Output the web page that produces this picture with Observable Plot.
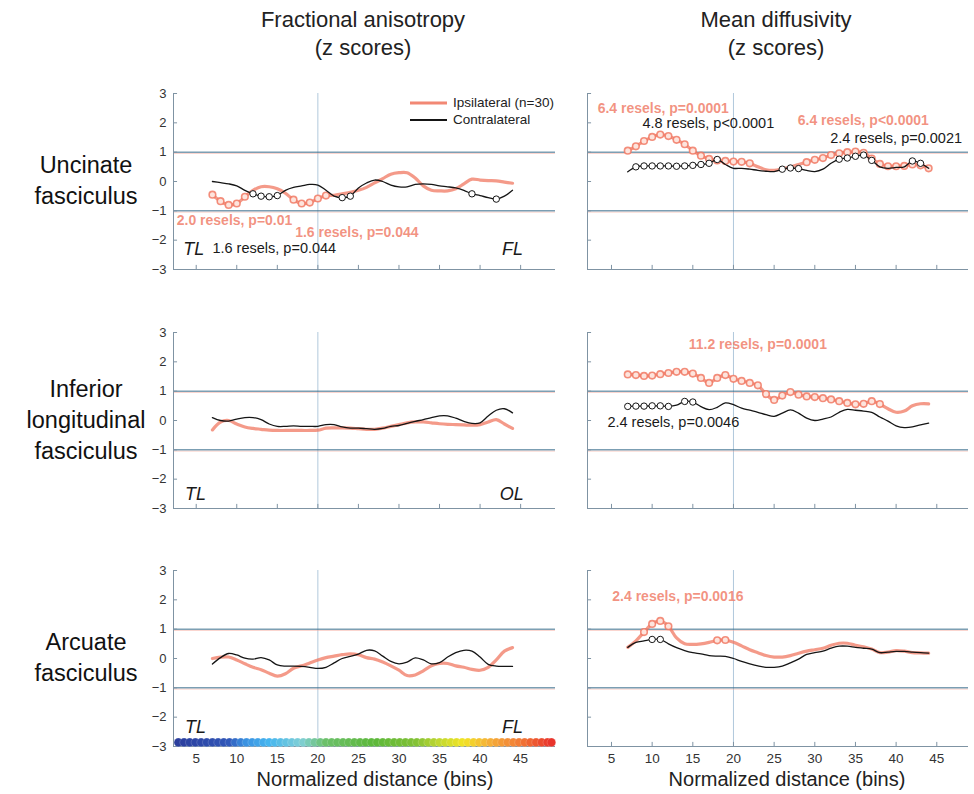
<!DOCTYPE html>
<html><head><meta charset="utf-8">
<script src="https://cdn.jsdelivr.net/npm/d3@7"></script>
<script src="https://cdn.jsdelivr.net/npm/@observablehq/plot@0.6"></script>
<style>
body{margin:0;background:#fff;font-family:"Liberation Sans",Arial,sans-serif;}
#root{position:relative;width:974px;height:794px;overflow:hidden;background:#fff;}
.ttl{position:absolute;font-size:22px;color:#222;text-align:center;width:300px;line-height:28px;}
.row{position:absolute;font-size:23.5px;color:#111;text-align:center;width:172px;left:0;line-height:31px;}
.xlab{position:absolute;font-size:20px;color:#222;text-align:center;width:320px;}
.leg{position:absolute;font-size:13.5px;color:#222;}
</style></head><body><div id="root"></div>
<script>
// ---- data ----
const bins = [7,8,9,10,11,12,13,14,15,16,17,18,19,20,21,22,23,24,25,26,27,28,29,30,31,32,33,34,35,36,37,38,39,40,41,42,43,44];
const yTicks = [-3,-2,-1,0,1,2,3];
const xTicks = [5,10,15,20,25,30,35,40,45];

const faUncIpsi   = [-0.45,-0.67,-0.8,-0.75,-0.52,-0.3,-0.18,-0.18,-0.25,-0.4,-0.62,-0.75,-0.72,-0.58,-0.48,-0.47,-0.42,-0.37,-0.3,-0.2,-0.05,0.1,0.25,0.3,0.3,0.12,-0.15,-0.3,-0.32,-0.32,-0.25,-0.08,0.08,0.05,0.03,0.02,-0.02,-0.06];
const faUncContra = [0.0,-0.04,-0.08,-0.15,-0.3,-0.42,-0.5,-0.52,-0.48,-0.3,-0.2,-0.15,-0.1,-0.12,-0.3,-0.5,-0.55,-0.5,-0.22,-0.05,0.05,0.0,-0.12,-0.18,-0.18,-0.1,-0.08,-0.1,-0.15,-0.18,-0.22,-0.3,-0.42,-0.48,-0.55,-0.6,-0.5,-0.3];
const mdUncIpsi   = [1.05,1.2,1.38,1.52,1.6,1.55,1.42,1.27,1.05,0.88,0.77,0.72,0.7,0.68,0.67,0.62,0.5,0.4,0.38,0.43,0.5,0.58,0.66,0.74,0.8,0.9,0.96,1.0,1.02,0.98,0.78,0.6,0.52,0.52,0.53,0.58,0.55,0.45];
const mdUncContra = [0.33,0.5,0.53,0.53,0.53,0.53,0.52,0.53,0.55,0.58,0.62,0.75,0.58,0.45,0.45,0.42,0.38,0.35,0.34,0.42,0.46,0.44,0.38,0.34,0.42,0.62,0.76,0.8,0.86,0.9,0.72,0.5,0.45,0.48,0.5,0.7,0.62,0.45];
const faIlfIpsi   = [-0.32,-0.05,0.0,-0.12,-0.22,-0.27,-0.3,-0.33,-0.34,-0.34,-0.34,-0.34,-0.34,-0.33,-0.26,-0.25,-0.25,-0.26,-0.28,-0.3,-0.3,-0.26,-0.2,-0.14,-0.08,-0.05,-0.05,-0.08,-0.11,-0.13,-0.14,-0.15,-0.16,-0.14,-0.05,0.03,-0.12,-0.27];
const faIlfContra = [0.1,0.0,-0.02,0.05,0.1,0.1,0.03,-0.12,-0.2,-0.2,-0.18,-0.2,-0.2,-0.2,-0.14,-0.14,-0.22,-0.26,-0.26,-0.28,-0.3,-0.27,-0.2,-0.17,-0.1,-0.03,0.03,0.1,0.16,0.16,0.08,-0.03,-0.1,-0.08,0.15,0.35,0.4,0.26];
const mdIlfIpsi   = [1.57,1.55,1.52,1.53,1.58,1.62,1.66,1.66,1.6,1.45,1.28,1.45,1.55,1.42,1.35,1.28,1.2,0.9,0.7,0.85,0.97,0.88,0.82,0.8,0.76,0.72,0.66,0.6,0.55,0.57,0.66,0.56,0.4,0.28,0.32,0.5,0.57,0.57];
const mdIlfContra = [0.48,0.49,0.49,0.5,0.5,0.48,0.52,0.65,0.63,0.47,0.37,0.45,0.6,0.54,0.42,0.35,0.28,0.2,0.14,0.25,0.36,0.25,0.08,0.0,0.05,0.12,0.28,0.38,0.35,0.32,0.28,0.12,-0.02,-0.18,-0.24,-0.22,-0.15,-0.09];
const faAfIpsi    = [0.0,0.05,0.05,-0.05,-0.18,-0.3,-0.38,-0.5,-0.6,-0.52,-0.33,-0.25,-0.15,-0.05,0.03,0.08,0.13,0.16,0.13,0.03,-0.02,-0.12,-0.25,-0.4,-0.58,-0.56,-0.42,-0.25,-0.17,-0.17,-0.25,-0.3,-0.37,-0.4,-0.3,-0.05,0.25,0.37];
const faAfContra  = [-0.19,0.03,0.17,0.12,0.01,-0.02,0.03,-0.05,-0.22,-0.26,-0.26,-0.27,-0.3,-0.34,-0.3,-0.15,0.0,0.07,0.15,0.28,0.26,0.08,-0.1,-0.18,-0.12,0.02,-0.05,-0.18,-0.14,0.05,0.2,0.28,0.25,0.05,-0.2,-0.26,-0.27,-0.27];
const mdAfIpsi    = [0.38,0.6,0.9,1.18,1.28,1.1,0.7,0.5,0.48,0.5,0.55,0.62,0.63,0.55,0.43,0.3,0.2,0.1,0.05,0.05,0.1,0.18,0.25,0.3,0.35,0.45,0.52,0.52,0.45,0.4,0.32,0.2,0.22,0.27,0.25,0.2,0.19,0.18];
const mdAfContra  = [0.38,0.55,0.6,0.65,0.65,0.5,0.37,0.27,0.2,0.16,0.1,0.08,0.07,0.0,-0.1,-0.18,-0.25,-0.3,-0.3,-0.26,-0.15,-0.02,0.14,0.2,0.25,0.35,0.42,0.42,0.38,0.35,0.32,0.2,0.22,0.24,0.24,0.22,0.2,0.18];

// significant bins (circled)
const faUncIpsiSig   = [7,8,9,10,11,17,18,19,20,21];
const faUncContraSig = [12,13,14,15,23,24,39,42];
const mdUncIpsiSig   = [7,8,9,10,11,12,13,14,15,16,17,18,19,20,21,22,29,30,31,32,33,34,35,36,37,38,39,40,41,42,43,44];
const mdUncContraSig = [8,9,10,11,12,13,14,15,16,17,18,26,27,28,33,34,35,36,37,42,43];
const mdIlfIpsiSig   = [7,8,9,10,11,12,13,14,15,16,17,18,19,20,21,22,23,24,25,26,27,28,29,30,31,32,33,34,35,36,37,38];
const mdIlfContraSig = [7,8,9,10,11,12,14,15];
const mdAfIpsiSig    = [9,10,11,12,18,19];
const mdAfContraSig  = [10,11];

// annotations (data coordinates)
const faUncNotes = [
  {text:"2.0 resels, p=0.01", x:2.6, y:-1.33, side:"ipsi"},
  {text:"1.6 resels, p=0.044", x:17.2, y:-1.74, side:"ipsi"},
  {text:"1.6 resels, p=0.044", x:7.0, y:-2.29, side:"contra"}
];
const mdUncNotes = [
  {text:"6.4 resels, p=0.0001", x:3.3, y:2.49, side:"ipsi"},
  {text:"4.8 resels, p<0.0001", x:8.8, y:1.98, side:"contra"},
  {text:"6.4 resels, p<0.0001", x:27.9, y:2.08, side:"ipsi"},
  {text:"2.4 resels, p=0.0021", x:31.9, y:1.47, side:"contra"}
];
const mdIlfNotes = [
  {text:"11.2 resels, p=0.0001", x:14.5, y:2.6, side:"ipsi"},
  {text:"2.4 resels, p=0.0046", x:4.5, y:-0.07, side:"contra"}
];
const mdAfNotes = [
  {text:"2.4 resels, p=0.0016", x:5.1, y:2.12, side:"ipsi"}
];
const uncEnds = [{text:"TL", x:4.7, y:-2.3},{text:"FL", x:44, y:-2.3}];
const ilfEnds = [{text:"TL", x:4.9, y:-2.5},{text:"OL", x:43.9, y:-2.5}];
const afEnds  = [{text:"TL", x:4.9, y:-2.34},{text:"FL", x:44, y:-2.34}];

// colour bar along the tract
const colorbarBins = [2.8,3.5,4.2,4.9,5.6,6.3,7,7.7,8.4,9.1,9.8,10.5,11.2,11.9,12.6,13.3,14,14.7,15.4,16.1,16.8,17.5,18.2,18.9,19.6,20.3,21,21.7,22.4,23.1,23.8,24.5,25.2,25.9,26.6,27.3,28,28.7,29.4,30.1,30.8,31.5,32.2,32.9,33.6,34.3,35,35.7,36.4,37.1,37.8,38.5,39.2,39.9,40.6,41.3,42,42.7,43.4,44.1,44.8,45.5,46.2,46.9,47.6,48.3,48.8];
const colorStops = [3,9,11,14,18,21,27,32,35,38,41,45,49];
const colorRange = ["#2b3f9e","#3156b8","#3a8fe0","#45b5ef","#7fcfd6","#6cc06a","#5cb83a","#7fc035","#c0d830","#f2e424","#f5b238","#f27a36","#e8302a"];

// ---- drawing ----
const RED = "#f0735c", RED_TXT = "#f07f6c", AX = "#7f93a3";
const root = document.getElementById("root");
const minus = d => d < 0 ? "\u2212" + Math.abs(d) : String(d);

function panel(o) {
  const mL = o.isLeft ? 45 : 10, mR = 5, mT = 8, mB = o.isBottom ? 30 : 8;
  const W = o.innerW, H = 176;
  const rows = bins.map((b, i) => ({bin: b, ipsi: o.ipsi[i], contra: o.contra[i]}));
  const ipsiDots = rows.filter(r => (o.ipsiSig || []).includes(r.bin));
  const contraDots = rows.filter(r => (o.contraSig || []).includes(r.bin));
  const x0 = o.xDomain[0];
  const marks = [
    Plot.ruleX([20], {stroke: "#9dbbd3", strokeWidth: 0.8}),
    Plot.ruleY([1, -1], {stroke: "#f4a090", strokeWidth: 1, strokeOpacity: 0.45, dy: 1.3}),
    Plot.ruleY([1, -1], {stroke: "#3b6f8e", strokeWidth: 1}),
    Plot.ruleX([x0], {stroke: AX, strokeWidth: 1}),
    Plot.ruleY([-3], {stroke: AX, strokeWidth: 1}),
    Plot.ruleY(yTicks, {x1: x0, x2: x0 + 0.5, stroke: AX}),
    Plot.ruleX(xTicks, {y1: -3, y2: -2.86, stroke: AX})
  ];
  if (o.colorbar) {
    marks.push(Plot.dot(colorbarBins, {x: d => d, y: -2.86, r: 4.3, fill: d => d, stroke: "white", strokeOpacity: 0.35, strokeWidth: 0.5}));
  }
  if (o.isLeft) marks.push(Plot.axisY({ticks: yTicks, tickSize: 0, tickPadding: 7, tickFormat: minus, fontSize: 13, fill: "#333"}));
  if (o.isBottom) marks.push(Plot.axisX({ticks: xTicks, tickSize: 0, tickPadding: 7, fontSize: 13.5, fill: "#333"}));
  marks.push(
    Plot.line(rows, {x: "bin", y: "ipsi", stroke: RED, strokeWidth: 3.2, strokeOpacity: 0.72, curve: "catmull-rom"}),
    Plot.dot(ipsiDots, {x: "bin", y: "ipsi", r: 3.3, stroke: RED, strokeWidth: 1.6, fill: "#fde4dd", strokeOpacity: 0.8}),
    Plot.line(rows, {x: "bin", y: "contra", stroke: "#151515", strokeWidth: 1.3, curve: "catmull-rom"}),
    Plot.dot(contraDots, {x: "bin", y: "contra", r: 3.2, stroke: "#151515", strokeWidth: 1, fill: "white"})
  );
  if (o.notes) {
    marks.push(Plot.text(o.notes.filter(n => n.side === "ipsi"), {x: "x", y: "y", text: "text", textAnchor: "start", fill: RED_TXT, fontSize: 14, fontWeight: "bold", fillOpacity: 0.85}));
    marks.push(Plot.text(o.notes.filter(n => n.side === "contra"), {x: "x", y: "y", text: "text", textAnchor: "start", fill: "#1a1a1a", fontSize: 14.5}));
  }
  if (o.ends) marks.push(Plot.text(o.ends, {x: "x", y: "y", text: "text", fill: "#1a1a1a", fontSize: 18, fontStyle: "italic"}));

  const chart = Plot.plot({
    width: mL + W + mR, height: mT + H + mB,
    marginLeft: mL, marginRight: mR, marginTop: mT, marginBottom: mB,
    x: {domain: o.xDomain, axis: null},
    y: {domain: [-3, 3], axis: null},
    color: {type: "linear", domain: colorStops, range: colorRange, interpolate: "rgb"},
    style: {fontFamily: "'Liberation Sans', Arial, sans-serif", background: "transparent", overflow: "visible"},
    marks
  });
  chart.style.position = "absolute";
  chart.style.left = (o.frameLeft - mL) + "px";
  chart.style.top = (o.frameTop - mT) + "px";
  root.appendChild(chart);
}

const L = {isLeft: true, frameLeft: 173, innerW: 382, xDomain: [2.2, 49.3]};
const R = {isLeft: false, frameLeft: 587, innerW: 381, xDomain: [2.05, 48.9]};
const tops = [93, 332, 570];

panel({...L, frameTop: tops[0], ipsi: faUncIpsi, contra: faUncContra, ipsiSig: faUncIpsiSig, contraSig: faUncContraSig, notes: faUncNotes, ends: uncEnds});
panel({...R, frameTop: tops[0], ipsi: mdUncIpsi, contra: mdUncContra, ipsiSig: mdUncIpsiSig, contraSig: mdUncContraSig, notes: mdUncNotes});
panel({...L, frameTop: tops[1], ipsi: faIlfIpsi, contra: faIlfContra, ends: ilfEnds});
panel({...R, frameTop: tops[1], ipsi: mdIlfIpsi, contra: mdIlfContra, ipsiSig: mdIlfIpsiSig, contraSig: mdIlfContraSig, notes: mdIlfNotes});
panel({...L, frameTop: tops[2], isBottom: true, ipsi: faAfIpsi, contra: faAfContra, ends: afEnds, colorbar: true});
panel({...R, frameTop: tops[2], isBottom: true, ipsi: mdAfIpsi, contra: mdAfContra, ipsiSig: mdAfIpsiSig, contraSig: mdAfContraSig, notes: mdAfNotes});

// ---- text around the panels ----
function addDiv(cls, html, left, top) {
  const d = document.createElement("div");
  d.className = cls; d.innerHTML = html;
  d.style.left = left + "px"; d.style.top = top + "px";
  root.appendChild(d);
}
const colTitles = [["Fractional anisotropy", 363], ["Mean diffusivity", 776]];
colTitles.forEach(([t, cx]) => addDiv("ttl", t + "<br>(z scores)", cx - 150, 6));
const rowTitles = [["Uncinate<br>fasciculus", 181, 2], ["Inferior<br>longitudinal<br>fasciculus", 420, 3], ["Arcuate<br>fasciculus", 658, 2]];
rowTitles.forEach(([t, cy, n]) => addDiv("row", t, 0, cy - n * 31 / 2));
[375, 787].forEach(cx => addDiv("xlab", "Normalized distance (bins)", cx - 160, 768));

// legend
const legendItems = [["Ipsilateral (n=30)", RED, 3, 0.85], ["Contralateral", "#151515", 2, 1]];
legendItems.forEach(([label, col, w, op], i) => {
  const y = 103 + i * 17;
  const d = document.createElement("div");
  d.className = "leg";
  d.style.left = "410px"; d.style.top = (y - 9) + "px";
  d.innerHTML = `<svg width="40" height="18" style="vertical-align:middle"><line x1="0" x2="37" y1="9" y2="9" stroke="${col}" stroke-width="${w}" stroke-opacity="${op}"/></svg><span style="position:relative;top:0px;margin-left:3px">${label}</span>`;
  root.appendChild(d);
});
</script>
</body></html>
